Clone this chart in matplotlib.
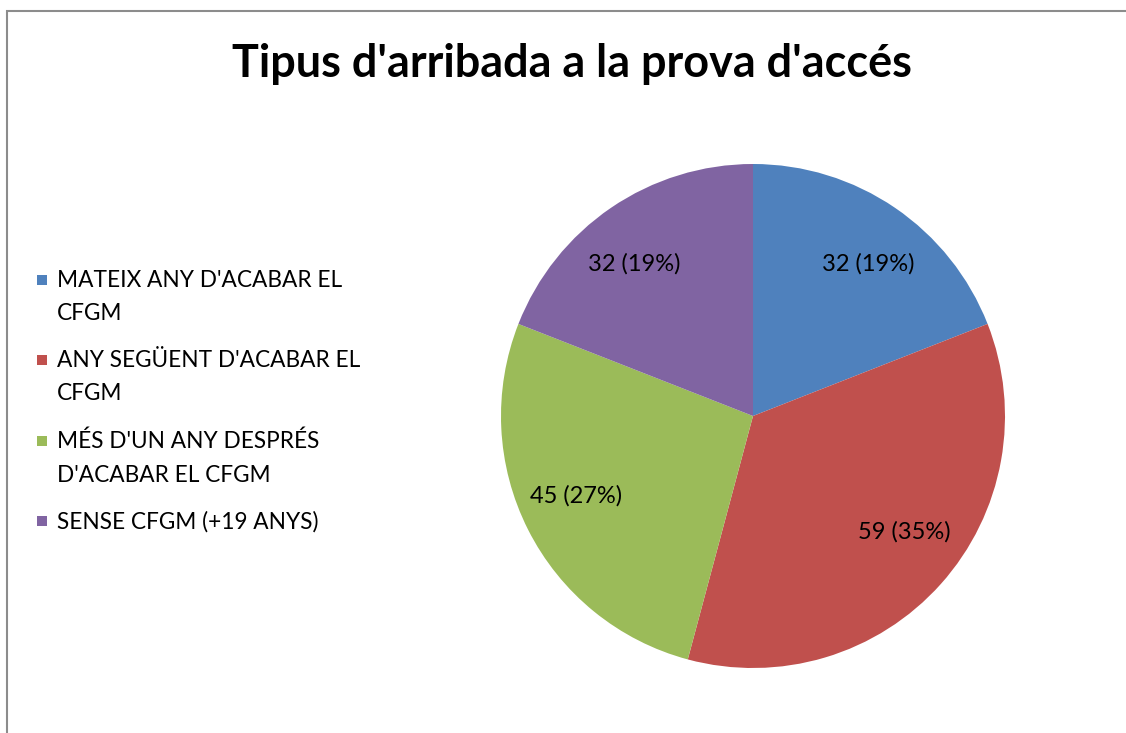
import matplotlib
matplotlib.use("Agg")
import matplotlib.pyplot as plt
from matplotlib.patches import Rectangle

plt.rcParams['font.family'] = ['Lato', 'DejaVu Sans']

title = "Tipus d'arribada a la prova d'accés"
categories = ["MATEIX ANY D'ACABAR EL\nCFGM",
              "ANY SEGÜENT D'ACABAR EL\nCFGM",
              "MÉS D'UN ANY DESPRÉS\nD'ACABAR EL CFGM",
              "SENSE CFGM (+19 ANYS)"]
values = [32, 59, 45, 32]
colors = ["#4F81BD", "#C0504D", "#9BBB59", "#8064A2"]

W, H = 1126, 733
fig = plt.figure(figsize=(W / 100, H / 100), dpi=100)

# chart-area border (left/top visible)
fig.patches.append(Rectangle((7 / W, -0.05), 1.2, (H - 11) / H + 0.05,
                             transform=fig.transFigure, fill=False,
                             edgecolor="#8c8c8c", linewidth=1.5))

cx, cy, r = 753, 416, 252
ax = fig.add_axes([(cx - r) / W, (H - cy - r) / H, 2 * r / W, 2 * r / H])
total = sum(values)
wedges, texts, autotexts = ax.pie(
    values, colors=colors, startangle=90, counterclock=False,
    autopct=lambda p: f"{round(p * total / 100)} ({p:.0f}%)",
    pctdistance=0.76, textprops=dict(fontsize=17, color="black"),
    wedgeprops=dict(linewidth=0))
# small placement nudges (in axes data units; radius = 1)
nudges = [(0.03, -0.025), (0.035, 0.045), (-0.025, 0.025), (-0.045, -0.025)]
for t, (dx, dy) in zip(autotexts, nudges):
    x, y = t.get_position()
    t.set_position((x + dx, y + dy))
ax.set_xlim(-1, 1)
ax.set_ylim(-1, 1)
ax.set_aspect('equal')
ax.axis('off')

fig.text(572 / W, 1 - 64 / H, title, ha='center', va='center',
         fontsize=32.4, fontweight='bold')

ys = [280, 360, 441, 521]
for lab, col, y in zip(categories, colors, ys):
    fig.patches.append(Rectangle((37 / W, 1 - (y + 5) / H), 10 / W, 10 / H,
                                 transform=fig.transFigure, facecolor=col,
                                 edgecolor='none'))
    fig.text(57 / W, 1 - (y - 10) / H, lab, ha='left', va='top',
             fontsize=16.3, linespacing=1.72)

fig.savefig("out.png", dpi=100)
